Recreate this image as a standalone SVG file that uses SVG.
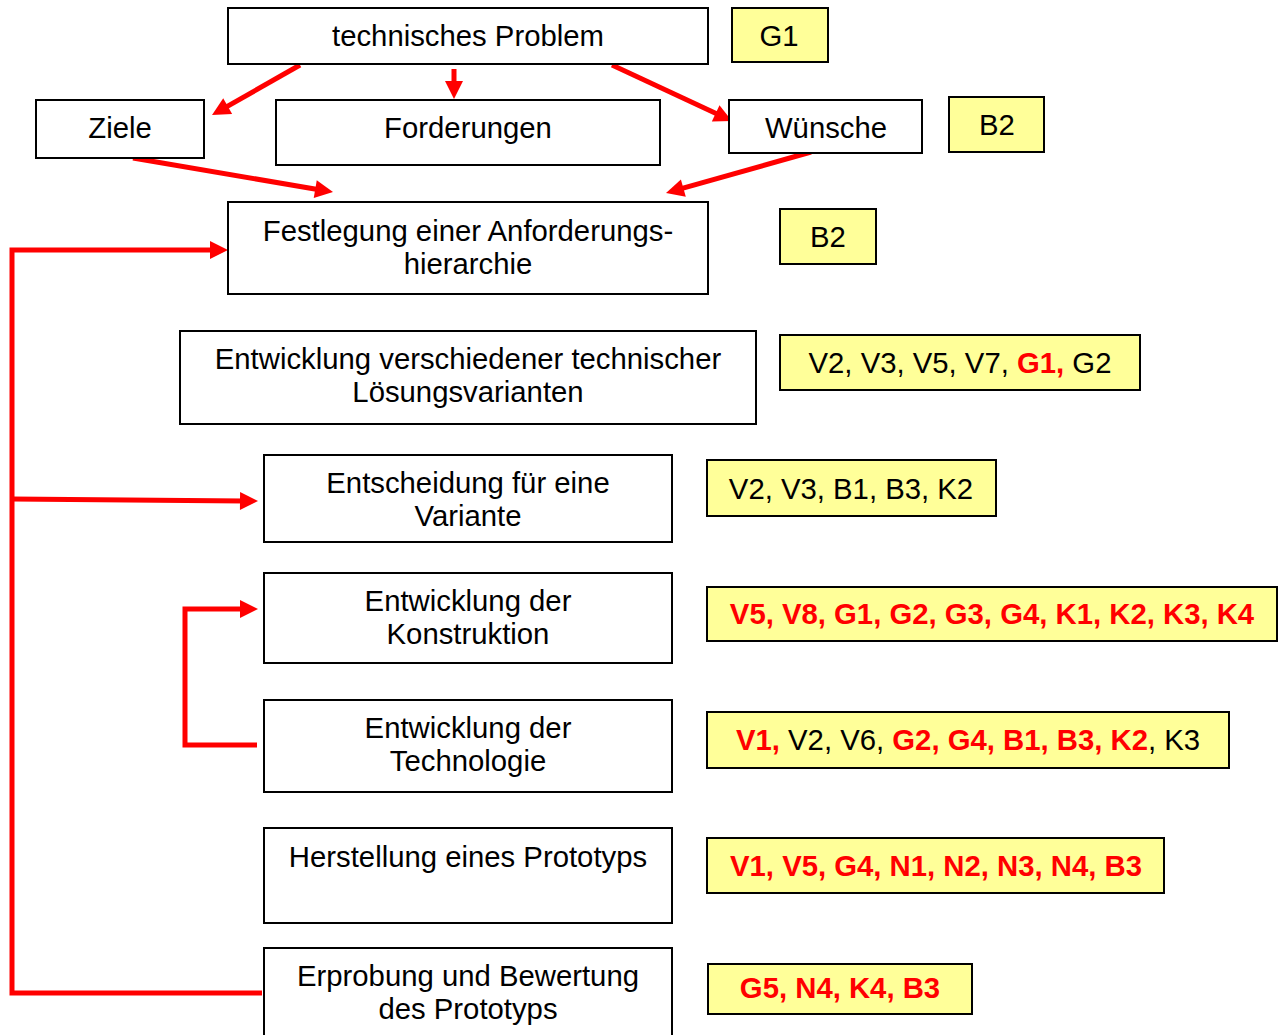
<svg xmlns="http://www.w3.org/2000/svg" width="1283" height="1035" viewBox="0 0 1283 1035">
<style>
.box{fill:#fff;stroke:#000;stroke-width:2}
.tag{fill:#FFFF99;stroke:#000;stroke-width:2}
text{font-family:"Liberation Sans",Arial,sans-serif;font-size:29.3px;fill:#000;text-anchor:middle}
.r{fill:#FF0000;font-weight:bold}
.b{font-weight:bold}
.con{fill:none;stroke:#FF0000;stroke-width:5}
</style>
<defs>
<marker id="ah" markerUnits="userSpaceOnUse" markerWidth="18" markerHeight="18" refX="4" refY="9" orient="auto" overflow="visible">
<path d="M0,0 L18,9 L0,18 z" fill="#FF0000"/>
</marker>
</defs>
<rect width="1283" height="1035" fill="#fff"/>
<g id="connectors">
<line class="con" x1="300" y1="65" x2="224.2" y2="108.1" marker-end="url(#ah)"/>
<line class="con" x1="454" y1="69" x2="454" y2="85" marker-end="url(#ah)"/>
<line class="con" x1="612" y1="65" x2="719.3" y2="115.1" marker-end="url(#ah)"/>
<line class="con" x1="133" y1="158" x2="319.2" y2="189.7" marker-end="url(#ah)"/>
<line class="con" x1="811" y1="152" x2="679.5" y2="189.2" marker-end="url(#ah)"/>
<path class="con" d="M262,993 H12 V250 H214" marker-end="url(#ah)"/>
<line class="con" x1="12" y1="499" x2="244" y2="501" marker-end="url(#ah)"/>
<path class="con" d="M257,745 H185 V609 H244" marker-end="url(#ah)"/>
</g>
<g id="n-problem"><rect class="box" x="228" y="8" width="480" height="56"/><text x="468" y="46">technisches Problem</text></g>
<g id="t-g1"><rect class="tag" x="732" y="8" width="96" height="54"/><text x="779" y="46">G1</text></g>
<g id="n-ziele"><rect class="box" x="36" y="100" width="168" height="58"/><text x="120" y="138">Ziele</text></g>
<g id="n-forderungen"><rect class="box" x="276" y="100" width="384" height="65"/><text x="468" y="138">Forderungen</text></g>
<g id="n-wuensche"><rect class="box" x="729" y="100" width="193" height="53"/><text x="826" y="138">Wünsche</text></g>
<g id="t-b2a"><rect class="tag" x="949" y="97" width="95" height="55"/><text x="997" y="135">B2</text></g>
<g id="n-festlegung"><rect class="box" x="228" y="202" width="480" height="92"/><text x="468" y="241">Festlegung einer Anforderungs-</text><text x="468" y="274">hierarchie</text></g>
<g id="t-b2b"><rect class="tag" x="780" y="209" width="96" height="55"/><text x="828" y="247">B2</text></g>
<g id="n-loesungen"><rect class="box" x="180" y="331" width="576" height="93"/><text x="468" y="369">Entwicklung verschiedener technischer</text><text x="468" y="402">Lösungsvarianten</text></g>
<g id="t-loesungen"><rect class="tag" x="780" y="335" width="360" height="55"/><text x="960" y="373">V2, V3, V5, V7, <tspan class="r">G1,</tspan> G2</text></g>
<g id="n-entscheidung"><rect class="box" x="264" y="455" width="408" height="87"/><text x="468" y="493">Entscheidung für eine</text><text x="468" y="526">Variante</text></g>
<g id="t-entscheidung"><rect class="tag" x="707" y="460" width="289" height="56"/><text x="851" y="499">V2, V3, B1, B3, K2</text></g>
<g id="n-konstruktion"><rect class="box" x="264" y="573" width="408" height="90"/><text x="468" y="611">Entwicklung der</text><text x="468" y="644">Konstruktion</text></g>
<g id="t-konstruktion"><rect class="tag" x="707" y="587" width="570" height="54"/><text class="r" x="992" y="624">V5, V8, G1, G2, G3, G4, K1, K2, K3, K4</text></g>
<g id="n-technologie"><rect class="box" x="264" y="700" width="408" height="92"/><text x="468" y="738">Entwicklung der</text><text x="468" y="771">Technologie</text></g>
<g id="t-technologie"><rect class="tag" x="707" y="712" width="522" height="56"/><text x="968" y="750"><tspan class="r">V1,</tspan> V2, V6, <tspan class="r">G2, G4, B1, B3, K2</tspan>, K3</text></g>
<g id="n-prototyp"><rect class="box" x="264" y="828" width="408" height="95"/><text x="468" y="867">Herstellung eines Prototyps</text></g>
<g id="t-prototyp"><rect class="tag" x="707" y="838" width="457" height="55"/><text class="r" x="936" y="876">V1, V5, G4, N1, N2, N3, N4, B3</text></g>
<g id="n-erprobung"><rect class="box" x="264" y="948" width="408" height="100"/><text x="468" y="986">Erprobung und Bewertung</text><text x="468" y="1019">des Prototyps</text></g>
<g id="t-erprobung"><rect class="tag" x="708" y="964" width="264" height="50"/><text class="r" x="840" y="998">G5, N4, K4, B3</text></g>
</svg>
